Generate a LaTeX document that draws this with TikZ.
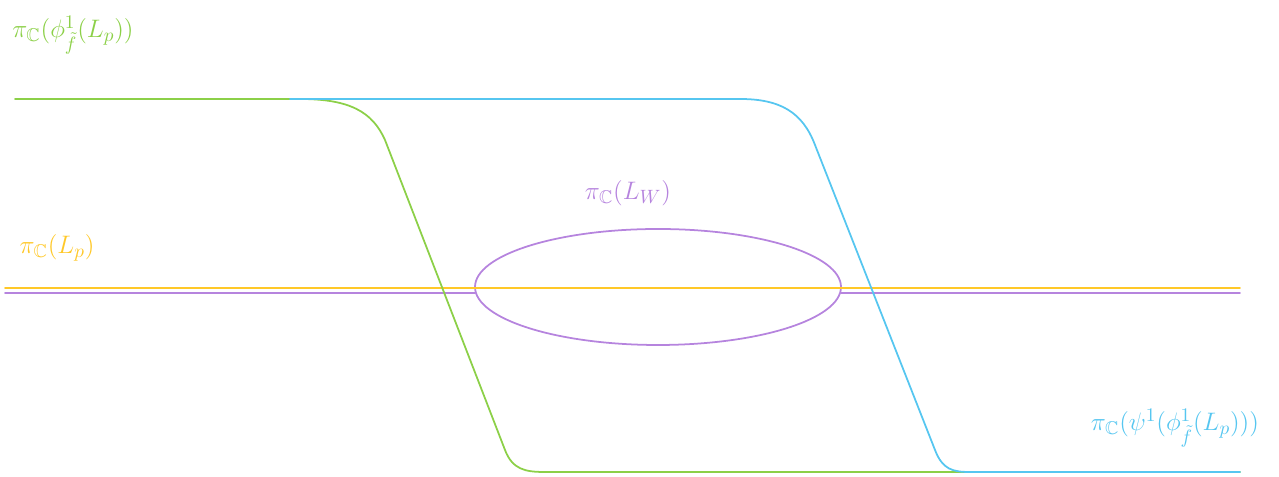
\documentclass[tikz,border=0pt]{standalone}
\usepackage{amsmath}
\usepackage{amssymb}
\usetikzlibrary{positioning, calc}
\definecolor{lgreen}{RGB}{140,208,72}
\definecolor{lblue}{RGB}{86,198,240}
\definecolor{lyellow}{RGB}{255,200,40}
\definecolor{lpurple}{RGB}{182,132,222}
\begin{document}
\begin{tikzpicture}[
  curve/.style={line width=1pt, line cap=round},
  lbl/.style={font=\fontsize{15}{18}\selectfont, inner sep=1pt}
]
\useasboundingbox (0,0) rectangle (25.58,9.54);
% horizontal lines
\draw[curve, draw=lpurple] (0.1,3.68) -- (9.5,3.68);
\draw[curve, draw=lpurple] (16.82,3.68) -- (24.8,3.68);
\draw[curve, draw=lpurple] (13.16,3.80) ellipse [x radius=3.66, y radius=1.16];
\draw[curve, draw=lyellow] (0.1,3.78) -- (24.8,3.78);
% isotoped curves
\draw[curve, draw=lgreen] (0.3,7.56) -- (6.0,7.56)
  .. controls (7.0,7.56) and (7.45,7.3) .. (7.70,6.74)
  -- (10.10,0.54)
  .. controls (10.25,0.15) and (10.5,0.10) .. (10.9,0.10) -- (24.8,0.10);
\draw[curve, draw=lblue] (5.8,7.56) -- (14.8,7.56)
  .. controls (15.6,7.56) and (16.05,7.3) .. (16.3,6.64)
  -- (18.7,0.54)
  .. controls (18.85,0.15) and (19.05,0.10) .. (19.4,0.10) -- (24.8,0.10);
% labels
\node[lbl, text=lgreen] (phiLp) at (1.46,8.84) {$\pi_{\mathbb{C}}(\phi^1_{\tilde f}(L_p))$};
\node[lbl, text=lyellow] (Lp) at (1.14,4.58) {$\pi_{\mathbb{C}}(L_p)$};
\node[lbl, text=lpurple] (LW) at (12.56,5.68) {$\pi_{\mathbb{C}}(L_W)$};
\node[lbl, text=lblue] (psiLp) at (23.5,0.98) {$\pi_{\mathbb{C}}(\psi^1(\phi^1_{\tilde f}(L_p)))$};
\end{tikzpicture}
\end{document}
